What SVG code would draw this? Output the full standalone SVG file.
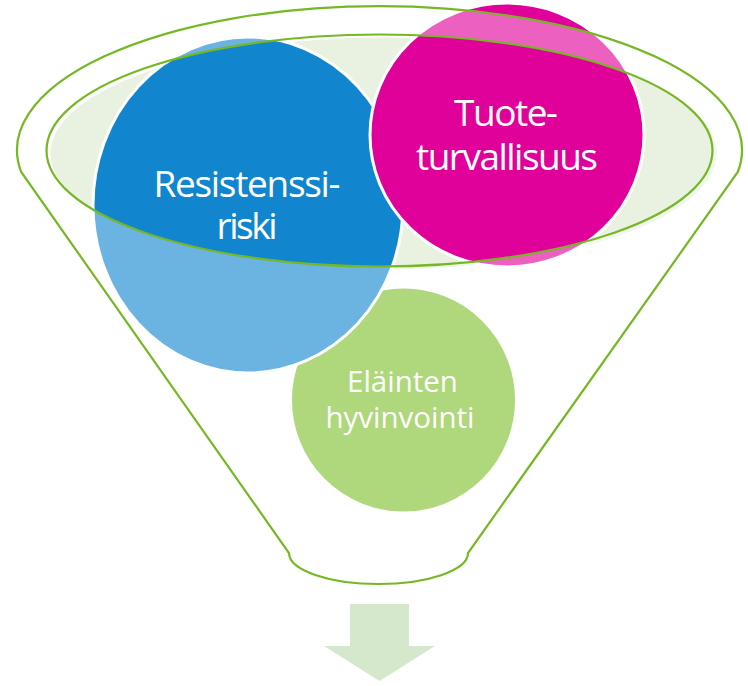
<svg xmlns="http://www.w3.org/2000/svg" width="748" height="686" viewBox="0 0 748 686">
<style>
.lbl{font-family:"Open Sans","Noto Sans","Liberation Sans",sans-serif;fill:#FFFFFF;text-anchor:middle}
.big{font-size:37px}
.small{font-size:29.5px}
.node{stroke:#FFFFFF;stroke-width:3}
.line{fill:none;stroke:#75B824;stroke-width:2.2}
</style>
<defs>
<clipPath id="hole"><ellipse cx="379.5" cy="150.5" rx="333" ry="116"/></clipPath>
</defs>
<rect width="748" height="686" fill="#FFFFFF"/>
<g id="funnel-back">
<ellipse cx="383.5" cy="153.5" rx="333" ry="116" fill="#E9F1E1"/>
</g>
<g id="node-elainten">
<circle class="node" cx="403.5" cy="400" r="113" fill="#7FBE2A"/>
</g>
<g id="node-resistenssi">
<ellipse class="node" cx="248" cy="205" rx="155" ry="168" fill="#1185CD"/>
</g>
<g id="node-tuote">
<ellipse class="node" cx="507" cy="135" rx="137" ry="132" fill="#E0009A"/>
</g>
<g id="funnel">
<path d="M21.2 172 A362.5 144 0 1 1 737.8 172 L468 553 A89.5 31 0 0 1 289 553 Z M46.5 150.5 A333 116 0 1 0 712.5 150.5 A333 116 0 1 0 46.5 150.5 Z" fill="#FFFFFF" fill-opacity="0.38" fill-rule="evenodd"/>
<path class="line" d="M21.2 172 A362.5 144 0 1 1 737.8 172 L468 553 A89.5 31 0 0 1 289 553 Z"/>
<ellipse class="line" cx="379.5" cy="150.5" rx="333" ry="116"/>
</g>
<g id="labels">
<text class="lbl big" x="247" y="197" textLength="187">Resistenssi-</text>
<text class="lbl big" x="247" y="239" textLength="61">riski</text>
<text class="lbl big" x="506" y="126" textLength="104">Tuote-</text>
<text class="lbl big" x="507" y="170" textLength="182">turvallisuus</text>
<text class="lbl small" x="402.5" y="392">Eläinten</text>
<text class="lbl small" x="400" y="428">hyvinvointi</text>
</g>
<g id="connectors">
<path d="M350 604 H409 V646 H435 L379.5 681 L324 646 H350 Z" fill="#D5E8CB"/>
</g>
</svg>
